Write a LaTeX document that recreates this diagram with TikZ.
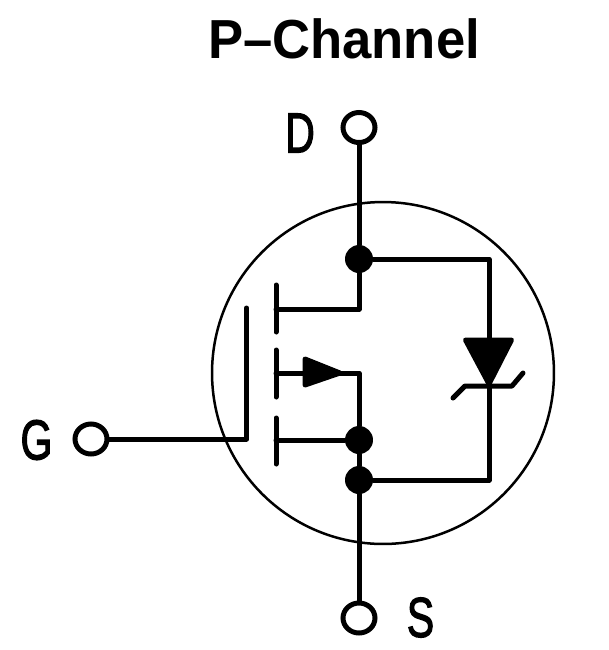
\documentclass[tikz,border=0pt]{standalone}
\usepackage{fontspec}
\setmainfont{Liberation Sans}
\newfontfamily\pinfont[FakeBold=2.4]{Liberation Sans}
\usetikzlibrary{positioning,shapes.geometric}
\tikzset{
  wire/.style={line width=0.1cm,line cap=round,line join=round},
  terminal/.style={ellipse,draw,line width=0.1cm,fill=white,minimum width=0.64cm,minimum height=0.6cm,inner sep=0pt},
  junction/.style={circle,fill=black,minimum size=0.56cm,inner sep=0pt},
  pinlabel/.style={font=\pinfont\fontsize{32}{32}\selectfont,xscale=0.73,inner sep=0pt},
  solidhead/.style={fill=black,draw=black,line width=0.1cm,line join=round}
}
\begin{document}
\begin{tikzpicture}[x=0.02cm,y=-0.02cm]
\useasboundingbox (0,0) rectangle (609,650);

% Title
\node[font=\bfseries\fontsize{31.3}{32}\selectfont,xscale=0.957,inner sep=0pt] (title) at (344,38.5) {P–Channel};

% Package outline
\node[circle,draw,line width=0.05cm,minimum size=6.84cm,inner sep=0pt] (body) at (383,373) {};

% Terminals and junctions
\node[terminal] (drain) at (359,127.5) {};
\node[terminal] (gate) at (91,439) {};
\node[terminal] (source) at (359,618) {};
\node[junction] (jtop) at (359,259) {};
\node[junction] (jmid) at (359,440) {};
\node[junction] (jbot) at (359,480) {};

% Pin labels
\node[pinlabel] (dlabel) at (300,133) {D};
\node[pinlabel] (glabel) at (36.5,440) {G};
\node[pinlabel] (slabel) at (420.5,617.5) {S};

% Helper points
\coordinate (gatetop) at (246.5,308);
\coordinate (gatefoot) at (246.5,439);
\coordinate (chdrain) at (276,309);
\coordinate (chbody) at (276,373);
\coordinate (chsource) at (276,440);
\coordinate (draincorner) at (359,309);
\coordinate (bodycorner) at (359,373);
\coordinate (dtop) at (489,259);
\coordinate (dbot) at (489,480);

% Gate and channel
\draw[wire] (gate) -- (gatefoot) -- (gatetop);
\draw[wire] (276,285) -- (276,332);
\draw[wire] (276,350) -- (276,397);
\draw[wire] (276,418) -- (276,464);

% Drain and source
\draw[wire] (drain) -- (jtop);
\draw[wire] (jtop) -- (draincorner) -- (chdrain);
\draw[wire] (chbody) -- (bodycorner) -- (jmid);
\draw[wire] (chsource) -- (jmid);
\draw[wire] (jmid) -- (jbot);
\draw[wire] (jbot) -- (source);

% Body arrow
\draw[solidhead] (305,359) -- (340,373) -- (305,385) -- cycle;

% Zener
\draw[wire] (jtop) -- (dtop) -- (dbot) -- (jbot);
\draw[solidhead] (465.5,340) -- (511.5,340) -- (489,384) -- cycle;
\draw[wire] (453,398) -- (465,386) -- (512,386) -- (523,373);
\end{tikzpicture}
\end{document}
